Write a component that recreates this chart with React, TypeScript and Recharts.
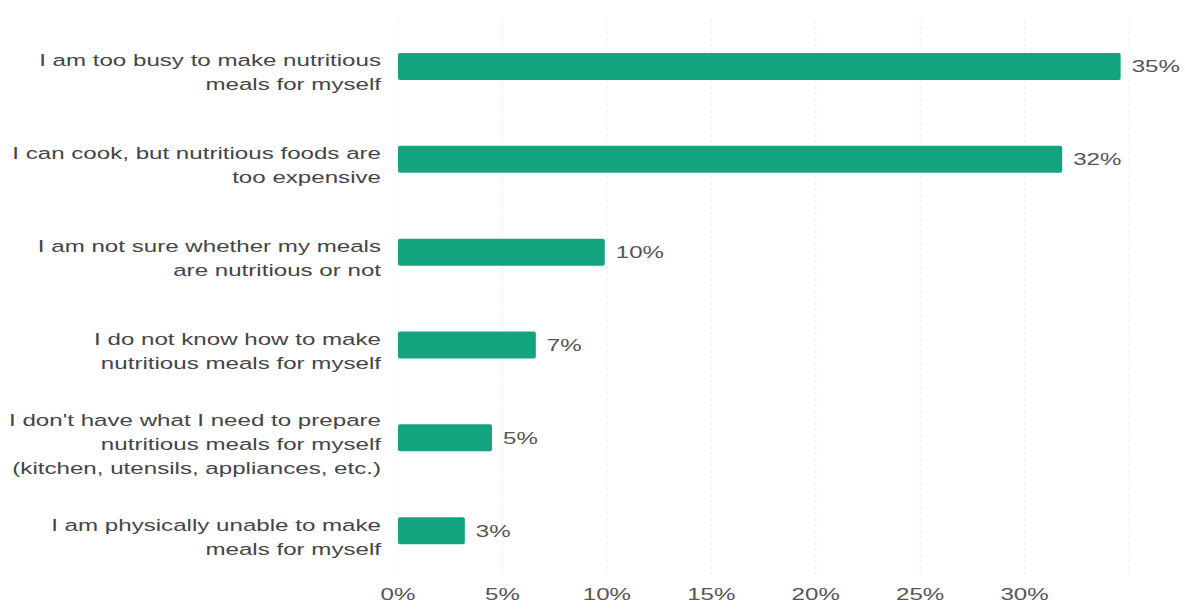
import { BarChart, Bar, XAxis, YAxis, CartesianGrid, LabelList } from 'recharts'

const BAR_COLOR = '#14a37f'
const FONT = 'Liberation Sans, Arial, sans-serif'
const STRETCH = 1.42 // the source picture's text is wide

const categories = [
  'I am too busy to make nutritious|meals for myself',
  'I can cook, but nutritious foods are|too expensive',
  'I am not sure whether my meals|are nutritious or not',
  'I do not know how to make|nutritious meals for myself',
  "I don't have what I need to prepare|nutritious meals for myself|(kitchen, utensils, appliances, etc.)",
  'I am physically unable to make|meals for myself',
]
const shares = [34.6, 31.8, 9.9, 6.6, 4.5, 3.2]
const xTicks = [0, 5, 10, 15, 20, 25, 30]

const data = categories.map((c, i) => ({ reason: c, share: shares[i] }))

// eslint-disable-next-line @typescript-eslint/no-explicit-any
function ReasonTick({ x, y, payload }: any) {
  const lines: string[] = String(payload.value).split('|')
  const lh = 24
  const start = 6 - ((lines.length - 1) * lh) / 2
  return (
    <text
      transform={`translate(${x - 9},${y}) scale(${STRETCH},1)`}
      textAnchor="end"
      fill="#454545"
      fontSize={17}
      fontFamily={FONT}
    >
      {lines.map((l, i) => (
        <tspan key={i} x={0} y={start + i * lh} dy="0.35em">
          {l}
        </tspan>
      ))}
    </text>
  )
}

// eslint-disable-next-line @typescript-eslint/no-explicit-any
function PctTick({ x, y, payload }: any) {
  return (
    <text
      transform={`translate(${x},${y + 3}) scale(${STRETCH},1)`}
      textAnchor="middle"
      dy="0.71em"
      fill="#555"
      fontSize={17}
      fontFamily={FONT}
    >
      {`${payload.value}%`}
    </text>
  )
}

// eslint-disable-next-line @typescript-eslint/no-explicit-any
function ValueLabel({ x, y, width, height, value }: any) {
  return (
    <text
      transform={`translate(${x + width + 11},${y + height / 2}) scale(${STRETCH},1)`}
      textAnchor="start"
      dy="0.35em"
      fill="#555"
      fontSize={17}
      fontFamily={FONT}
    >
      {`${Math.round(Number(value))}%`}
    </text>
  )
}

export default function App() {
  return (
    <div style={{ position: 'absolute', left: 0, top: 0, background: '#fff' }}>
      <BarChart
        width={1185}
        height={609}
        data={data}
        layout="vertical"
        margin={{ top: 20, right: 56, bottom: 0, left: 0 }}
        barCategoryGap={0}
      >
        <CartesianGrid horizontal={false} strokeDasharray="3 3" stroke="#ececec" />
        <XAxis
          type="number"
          domain={[0, 35]}
          ticks={xTicks}
          axisLine={false}
          tickLine={false}
          height={32}
          tick={<PctTick />}
        />
        <YAxis
          type="category"
          dataKey="reason"
          width={398}
          axisLine={false}
          tickLine={false}
          tick={<ReasonTick />}
        />
        <Bar dataKey="share" fill={BAR_COLOR} barSize={27} radius={2} isAnimationActive={false}>
          <LabelList dataKey="share" content={<ValueLabel />} />
        </Bar>
      </BarChart>
    </div>
  )
}
